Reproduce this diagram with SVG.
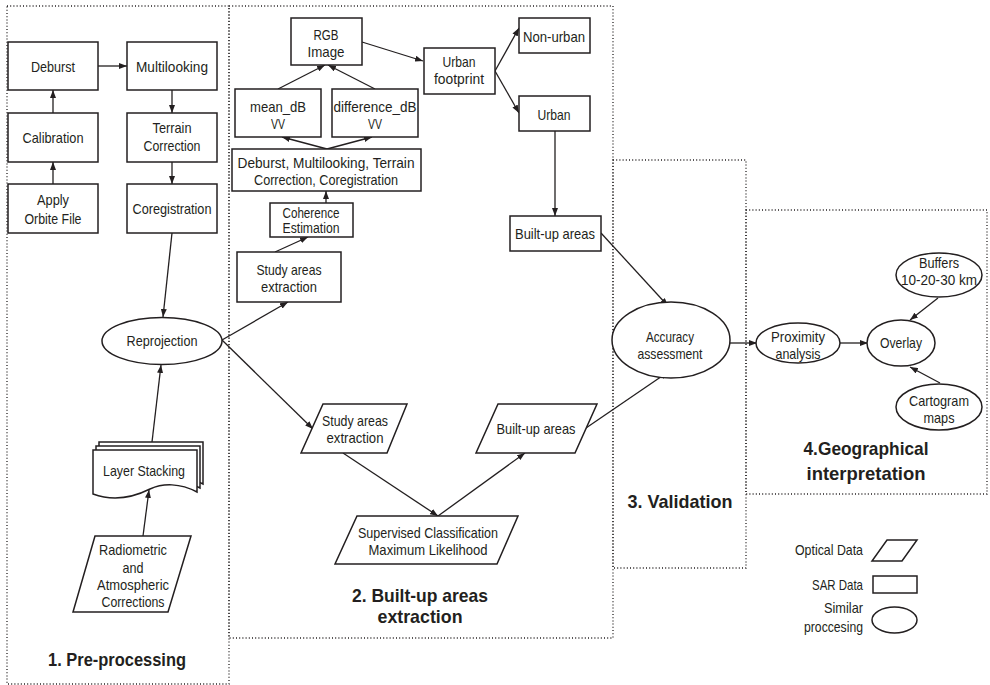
<svg xmlns="http://www.w3.org/2000/svg" xmlns:xlink="http://www.w3.org/1999/xlink" width="990" height="685" viewBox="0 0 990 685">
<defs>
<marker id="a" markerWidth="8" markerHeight="6" refX="8" refY="3" orient="auto" markerUnits="userSpaceOnUse"><path d="M0,0 L8,3 L0,6 z" fill="#231f20"/></marker>
<path id="doc" d="M93,450 H197 V492 C180,483 163,483 150,489 C132,498 112,501 93,494 Z"/>
</defs>
<style>
.b{fill:#fff;stroke:#231f20;stroke-width:1.5}
.t{font-family:"Liberation Sans",Arial,sans-serif;font-size:15px;fill:#231f20;text-anchor:middle}
.s{font-size:14px}
.h{font-weight:bold;font-size:19px}
.r{text-anchor:end}
.c{fill:none;stroke:#231f20;stroke-width:1.3;marker-end:url(#a)}
.d{fill:none;stroke:#231f20;stroke-width:1.3;stroke-dasharray:1 2.2}
</style>
<rect width="990" height="685" fill="#fff"/>
<g id="regions">
<rect class="d" x="7" y="6" width="222" height="678"/>
<rect class="d" x="229" y="6" width="384" height="632"/>
<rect class="d" x="613" y="160" width="133" height="408"/>
<rect class="d" x="746" y="210" width="241" height="284"/>
<text class="t h" x="117" y="666" textLength="138" lengthAdjust="spacingAndGlyphs">1. Pre-processing</text>
<text class="t h" x="420" y="602" textLength="136" lengthAdjust="spacingAndGlyphs">2. Built-up areas</text>
<text class="t h" x="420" y="623" textLength="85" lengthAdjust="spacingAndGlyphs">extraction</text>
<text class="t h" x="680" y="508" textLength="105" lengthAdjust="spacingAndGlyphs">3. Validation</text>
<text class="t h" x="866" y="455" textLength="125" lengthAdjust="spacingAndGlyphs">4.Geographical</text>
<text class="t h" x="866" y="480" textLength="119" lengthAdjust="spacingAndGlyphs">interpretation</text>
</g>
<g id="connectors">
<path class="c" d="M53,184 V162"/>
<path class="c" d="M53,113 V90"/>
<path class="c" d="M98,66 H127"/>
<path class="c" d="M172,90 V113"/>
<path class="c" d="M172,162 V184"/>
<path class="c" d="M172,233 L163,317"/>
<path class="c" d="M152,442 L161,365"/>
<path class="c" d="M143,536 L149,490"/>
<path class="c" d="M222,340 L288,302"/>
<path class="c" d="M222,340 L313,429"/>
<path class="c" d="M275,252 L308,237"/>
<path class="c" d="M326,203 V191"/>
<path class="c" d="M327,149 L282,137"/>
<path class="c" d="M327,149 L372,137"/>
<path class="c" d="M278,89 L325,65"/>
<path class="c" d="M375,89 L328,65"/>
<path class="c" d="M362,42 L423,61"/>
<path class="c" d="M495,71 L519,28"/>
<path class="c" d="M495,71 L519,113"/>
<path class="c" d="M555,131 V216"/>
<path class="c" d="M601,233 L668,306"/>
<path class="c" d="M343,453 L438,516"/>
<path class="c" d="M438,516 L525,453"/>
<path class="c" d="M586,428 L668,372"/>
<path class="c" d="M730,343 H757"/>
<path class="c" d="M840,343 H868"/>
<path class="c" d="M938,298 L910,320"/>
<path class="c" d="M940,383 L910,367"/>
</g>
<g id="deburst"><rect class="b" x="8" y="42" width="90" height="48"/><text class="t" x="53" y="72" textLength="44" lengthAdjust="spacingAndGlyphs">Deburst</text></g>
<g id="multilooking"><rect class="b" x="127" y="42" width="90" height="48"/><text class="t" x="172" y="72" textLength="72" lengthAdjust="spacingAndGlyphs">Multilooking</text></g>
<g id="calibration"><rect class="b" x="8" y="113" width="90" height="49"/><text class="t" x="53" y="143" textLength="61" lengthAdjust="spacingAndGlyphs">Calibration</text></g>
<g id="terrain"><rect class="b" x="127" y="113" width="90" height="49"/><text class="t" x="172" y="133" textLength="39" lengthAdjust="spacingAndGlyphs">Terrain</text><text class="t" x="172" y="151" textLength="57" lengthAdjust="spacingAndGlyphs">Correction</text></g>
<g id="orbit"><rect class="b" x="8" y="184" width="90" height="49"/><text class="t" x="53" y="205" textLength="32" lengthAdjust="spacingAndGlyphs">Apply</text><text class="t" x="53" y="224" textLength="57" lengthAdjust="spacingAndGlyphs">Orbite File</text></g>
<g id="coregistration"><rect class="b" x="127" y="184" width="90" height="49"/><text class="t" x="172" y="214" textLength="79" lengthAdjust="spacingAndGlyphs">Coregistration</text></g>
<g id="reprojection"><ellipse class="b" cx="162" cy="341" rx="60" ry="23.5"/><text class="t" x="162" y="346" textLength="71" lengthAdjust="spacingAndGlyphs">Reprojection</text></g>
<g id="layerstacking"><use xlink:href="#doc" class="b" transform="translate(6,-8)"/><use xlink:href="#doc" class="b" transform="translate(3,-4)"/><use xlink:href="#doc" class="b"/><text class="t" x="144" y="476" textLength="82" lengthAdjust="spacingAndGlyphs">Layer Stacking</text></g>
<g id="radiometric"><polygon class="b" points="95,536 191,536 168,612 73,612"/><text class="t" x="133" y="555" textLength="68" lengthAdjust="spacingAndGlyphs">Radiometric</text><text class="t" x="133" y="573" textLength="21" lengthAdjust="spacingAndGlyphs">and</text><text class="t" x="133" y="590" textLength="72" lengthAdjust="spacingAndGlyphs">Atmospheric</text><text class="t" x="133" y="607" textLength="63" lengthAdjust="spacingAndGlyphs">Corrections</text></g>
<g id="rgb"><rect class="b" x="291" y="18" width="71" height="47"/><text class="t" x="326" y="40" textLength="25" lengthAdjust="spacingAndGlyphs">RGB</text><text class="t" x="326" y="57" textLength="37" lengthAdjust="spacingAndGlyphs">Image</text></g>
<g id="mean"><rect class="b" x="235" y="89" width="86" height="48"/><text class="t" x="278" y="112" textLength="56" lengthAdjust="spacingAndGlyphs">mean_dB</text><text class="t" x="278" y="129" textLength="14" lengthAdjust="spacingAndGlyphs">VV</text></g>
<g id="difference"><rect class="b" x="332" y="89" width="86" height="48"/><text class="t" x="375" y="112" textLength="83" lengthAdjust="spacingAndGlyphs">difference_dB</text><text class="t" x="375" y="129" textLength="14" lengthAdjust="spacingAndGlyphs">VV</text></g>
<g id="combo"><rect class="b" x="232" y="149" width="189" height="42"/><text class="t" x="326" y="168" textLength="177" lengthAdjust="spacingAndGlyphs">Deburst, Multilooking, Terrain</text><text class="t" x="326" y="185" textLength="144" lengthAdjust="spacingAndGlyphs">Correction, Coregistration</text></g>
<g id="coherence"><rect class="b" x="270" y="203" width="83" height="34"/><text class="t s" x="311" y="218" textLength="57" lengthAdjust="spacingAndGlyphs">Coherence</text><text class="t s" x="311" y="233" textLength="57" lengthAdjust="spacingAndGlyphs">Estimation</text></g>
<g id="study-sar"><rect class="b" x="237" y="252" width="104" height="50"/><text class="t" x="289" y="275" textLength="65" lengthAdjust="spacingAndGlyphs">Study areas</text><text class="t" x="289" y="292" textLength="56" lengthAdjust="spacingAndGlyphs">extraction</text></g>
<g id="footprint"><rect class="b" x="424" y="48" width="71" height="46"/><text class="t" x="459" y="67" textLength="33" lengthAdjust="spacingAndGlyphs">Urban</text><text class="t" x="459" y="84" textLength="50" lengthAdjust="spacingAndGlyphs">footprint</text></g>
<g id="nonurban"><rect class="b" x="519" y="18" width="71" height="35"/><text class="t" x="554" y="42" textLength="62" lengthAdjust="spacingAndGlyphs">Non-urban</text></g>
<g id="urban"><rect class="b" x="519" y="96" width="71" height="35"/><text class="t" x="554" y="120" textLength="33" lengthAdjust="spacingAndGlyphs">Urban</text></g>
<g id="builtup-sar"><rect class="b" x="510" y="216" width="91" height="35"/><text class="t" x="555" y="239" textLength="80" lengthAdjust="spacingAndGlyphs">Built-up areas</text></g>
<g id="study-opt"><polygon class="b" points="323,404 407,404 387,453 301,453"/><text class="t" x="355" y="426" textLength="66" lengthAdjust="spacingAndGlyphs">Study areas</text><text class="t" x="355" y="443" textLength="57" lengthAdjust="spacingAndGlyphs">extraction</text></g>
<g id="builtup-opt"><polygon class="b" points="498,404 597,404 575,453 476,453"/><text class="t" x="536" y="434" textLength="79" lengthAdjust="spacingAndGlyphs">Built-up areas</text></g>
<g id="supervised"><polygon class="b" points="357,516 518,516 497,564 335,564"/><text class="t" x="428" y="538" textLength="140" lengthAdjust="spacingAndGlyphs">Supervised Classification</text><text class="t" x="428" y="555" textLength="119" lengthAdjust="spacingAndGlyphs">Maximum Likelihood</text></g>
<g id="accuracy"><ellipse class="b" cx="671" cy="340" rx="59" ry="38"/><text class="t" x="670" y="342" textLength="48" lengthAdjust="spacingAndGlyphs">Accuracy</text><text class="t" x="670" y="359" textLength="65" lengthAdjust="spacingAndGlyphs">assessment</text></g>
<g id="proximity"><ellipse class="b" cx="798" cy="343" rx="42" ry="20"/><text class="t" x="798" y="342" textLength="54" lengthAdjust="spacingAndGlyphs">Proximity</text><text class="t" x="798" y="359" textLength="45" lengthAdjust="spacingAndGlyphs">analysis</text></g>
<g id="overlay"><ellipse class="b" cx="901" cy="343" rx="34" ry="23"/><text class="t" x="901" y="348" textLength="42" lengthAdjust="spacingAndGlyphs">Overlay</text></g>
<g id="buffers"><ellipse class="b" cx="939" cy="275" rx="43" ry="22"/><text class="t" x="939" y="268" textLength="40" lengthAdjust="spacingAndGlyphs">Buffers</text><text class="t" x="939" y="285" textLength="76" lengthAdjust="spacingAndGlyphs">10-20-30 km</text></g>
<g id="cartogram"><ellipse class="b" cx="939" cy="407" rx="43" ry="23"/><text class="t" x="939" y="406" textLength="60" lengthAdjust="spacingAndGlyphs">Cartogram</text><text class="t" x="939" y="423" textLength="31" lengthAdjust="spacingAndGlyphs">maps</text></g>
<g id="legend">
<text class="t r" x="863" y="555" textLength="68" lengthAdjust="spacingAndGlyphs">Optical Data</text>
<polygon class="b" points="887,540 917,540 902,561 872,561"/>
<text class="t r" x="863" y="590" textLength="51" lengthAdjust="spacingAndGlyphs">SAR Data</text>
<rect class="b" x="873" y="576" width="44" height="17"/>
<text class="t r" x="863" y="613" textLength="39" lengthAdjust="spacingAndGlyphs">Similar</text>
<text class="t r" x="863" y="632" textLength="59" lengthAdjust="spacingAndGlyphs">proccesing</text>
<ellipse class="b" cx="894.5" cy="620" rx="22.5" ry="13"/>
</g>
</svg>
